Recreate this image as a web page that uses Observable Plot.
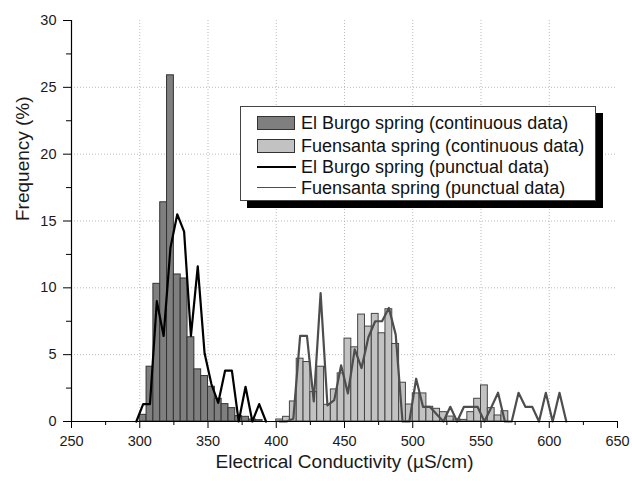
<!DOCTYPE html>
<html>
<head>
<meta charset="utf-8">
<script src="https://cdn.jsdelivr.net/npm/d3@7"></script>
<script src="https://cdn.jsdelivr.net/npm/@observablehq/plot@0.6"></script>
<style>
  html, body { margin: 0; padding: 0; background: #fff; }
  #wrap { position: relative; width: 632px; height: 481px; font-family: "Liberation Sans", Arial, sans-serif; }
  #legend { position: absolute; left: 240px; top: 106px; width: 356px; height: 95px; box-sizing: border-box;
            border: 1px solid #444; background: #fff; box-shadow: 7px 7px 0 #000; }
  .item { position: absolute; left: 0; height: 20px; width: 100%; }
  .sw { position: absolute; left: 16px; top: 3px; width: 38px; height: 14px; box-sizing: border-box; border: 1px solid #333; }
  .ln { position: absolute; left: 16px; top: 9px; width: 39px; height: 2px; }
  .lab { position: absolute; left: 60px; top: 0; line-height: 20px; font-size: 18px; color: #111; white-space: nowrap; }
</style>
</head>
<body>
<div id="wrap"></div>
<script>
// ---- data ----
const binWidth = 5;
const burgoBinStart = [300, 305, 310, 315, 320, 325, 330, 335, 340, 345, 350, 355, 360, 365, 370, 375, 380, 385];
const burgoFreq     = [0.5, 4.1, 10.3, 16.4, 25.9, 11.0, 10.7, 6.3, 3.9, 3.4, 2.6, 1.7, 1.3, 1.0, 0.4, 0.35, 0.15, 0.1];

const fuenBinStart = [400, 405, 410, 415, 420, 425, 430, 435, 440, 445, 450, 455, 460, 465, 470, 475, 480, 485, 490, 495,
                      500, 505, 510, 515, 520, 525, 530, 535, 540, 545, 550, 555, 560, 565];
const fuenFreq     = [0.15, 0.35, 1.5, 4.7, 4.45, 2.2, 4.1, 1.25, 2.4, 3.6, 6.2, 5.55, 8.0, 7.1, 8.05, 6.6, 8.4, 5.8, 2.9, 1.27,
                      2.1, 2.1, 1.1, 0.95, 0.7, 0.37, 0.15, 0.12, 0.7, 1.7, 2.7, 1.0, 0.45, 0.77];

const burgoLineX = [297.5, 302.5, 307.5, 312.5, 317.5, 322.5, 327.5, 332.5, 337.5, 342.5, 347.5, 352.5, 357.5,
                    362.5, 367.5, 372.5, 377.5, 382.5, 387.5, 392.5];
const burgoLineY = [0, 1.3, 1.3, 9.0, 6.4, 13.0, 15.5, 14.2, 6.4, 11.6, 5.1, 2.8, 1.4,
                    3.8, 3.8, 0, 2.6, 0, 1.3, 0];

const fuenLineX = [402.5, 407.5, 412.5, 417.5, 422.5, 427.5, 432.5, 437.5, 442.5, 447.5, 452.5, 457.5, 462.5, 467.5,
                   472.5, 477.5, 482.5, 487.5, 492.5, 497.5, 502.5, 507.5, 512.5, 517.5, 522.5, 527.5, 532.5, 537.5,
                   542.5, 547.5, 552.5, 557.5, 562.5, 567.5, 572.5, 577.5, 582.5, 587.5, 592.5, 597.5, 602.5, 607.5, 612.5];
const fuenLineY = [0, 0, 0.2, 6.4, 6.4, 1.5, 9.6, 1.2, 1.6, 4.2, 2.1, 5.4, 4.0, 6.3,
                   7.5, 7.5, 8.5, 6.5, 0, 0, 3.2, 1.1, 1.1, 0.55, 0, 1.1, 0, 1.1,
                   1.1, 1.1, 0, 1.05, 2.15, 0, 0, 2.15, 1.1, 1.1, 0, 2.15, 0, 2.15, 0];

const xTicks = [250, 300, 350, 400, 450, 500, 550, 600, 650];
const xMinor = [275, 325, 375, 425, 475, 525, 575, 625];
const yTicks = [0, 5, 10, 15, 20, 25, 30];
const yMinor = [2.5, 7.5, 12.5, 17.5, 22.5, 27.5];

const seriesNames = ["El Burgo spring (continuous data)", "Fuensanta spring (continuous data)",
                     "El Burgo spring (punctual data)", "Fuensanta spring (punctual data)"];
const xLabel = "Electrical Conductivity (\u00B5S/cm)";
const yLabel = "Frequency (%)";

// ---- tables ----
const burgo = burgoBinStart.map((x, i) => ({x1: x, x2: x + binWidth, y: burgoFreq[i]}));
const fuen = fuenBinStart.map((x, i) => ({x1: x, x2: x + binWidth, y: fuenFreq[i]}));
const burgoLine = burgoLineX.map((x, i) => ({x, y: burgoLineY[i]}));
const fuenLine = fuenLineX.map((x, i) => ({x, y: fuenLineY[i]}));

const colBurgo = "#7f7f7f", colFuen = "#c2c2c2", colBurgoLine = "#000", colFuenLine = "#4d4d4d";

const chart = Plot.plot({
  width: 632, height: 481,
  marginLeft: 71, marginRight: 15, marginTop: 20, marginBottom: 60,
  x: {domain: [250, 650]},
  y: {domain: [0, 30]},
  style: {fontFamily: "'Liberation Sans', Arial, sans-serif", color: "#1a1a1a", background: "#fff"},
  marks: [
    Plot.gridY(yTicks.slice(1, -1), {stroke: "#aaa", strokeOpacity: 0.8, strokeDasharray: "1,2"}),
    Plot.gridX(xTicks.slice(1, -1), {stroke: "#aaa", strokeOpacity: 0.8, strokeDasharray: "1,2"}),
    Plot.rectY(burgo, {x1: "x1", x2: "x2", y: "y", fill: colBurgo, stroke: "#333", strokeWidth: 1}),
    Plot.rectY(fuen, {x1: "x1", x2: "x2", y: "y", fill: colFuen, stroke: "#444", strokeWidth: 1}),
    Plot.line(burgoLine, {x: "x", y: "y", stroke: colBurgoLine, strokeWidth: 2.2}),
    Plot.line(fuenLine, {x: "x", y: "y", stroke: colFuenLine, strokeWidth: 2.2}),
    Plot.ruleX([250], {stroke: "#000", strokeWidth: 1.2}),
    Plot.ruleY([0], {stroke: "#000", strokeWidth: 1.2}),
    Plot.axisY({ticks: yTicks, tickSize: 8, tickPadding: 7, fontSize: 14.5, label: null, stroke: "#000"}),
    Plot.axisY({ticks: yMinor, tickSize: 5, tickFormat: () => "", label: null, stroke: "#000"}),
    Plot.axisX({ticks: xTicks, tickSize: 7, tickPadding: 7, fontSize: 14.5, label: null, stroke: "#000"}),
    Plot.axisX({ticks: xMinor, tickSize: 4, tickFormat: () => "", label: null, stroke: "#000"}),
    Plot.text([xLabel], {frameAnchor: "bottom", dy: 46, fontSize: 19, fill: "#1a1a1a"}),
    Plot.text([yLabel], {frameAnchor: "left", dx: -49, rotate: -90, fontSize: 19, fill: "#1a1a1a"})
  ]
});

const wrap = document.getElementById("wrap");
wrap.appendChild(chart);

// ---- legend ----
const legend = document.createElement("div");
legend.id = "legend";
const rowTops = [6, 28.5, 50, 70.5];
const kinds = [
  {type: "sw", color: colBurgo},
  {type: "sw", color: colFuen},
  {type: "ln", color: colBurgoLine},
  {type: "ln", color: colFuenLine}
];
seriesNames.forEach((name, i) => {
  const item = document.createElement("div");
  item.className = "item";
  item.style.top = rowTops[i] + "px";
  const sym = document.createElement("div");
  sym.className = kinds[i].type;
  sym.style.background = kinds[i].color;
  if (kinds[i].type === "ln" && i === 3) sym.style.height = "1.6px";
  const lab = document.createElement("div");
  lab.className = "lab";
  lab.textContent = name;
  item.appendChild(sym);
  item.appendChild(lab);
  legend.appendChild(item);
});
wrap.appendChild(legend);
</script>
</body>
</html>
